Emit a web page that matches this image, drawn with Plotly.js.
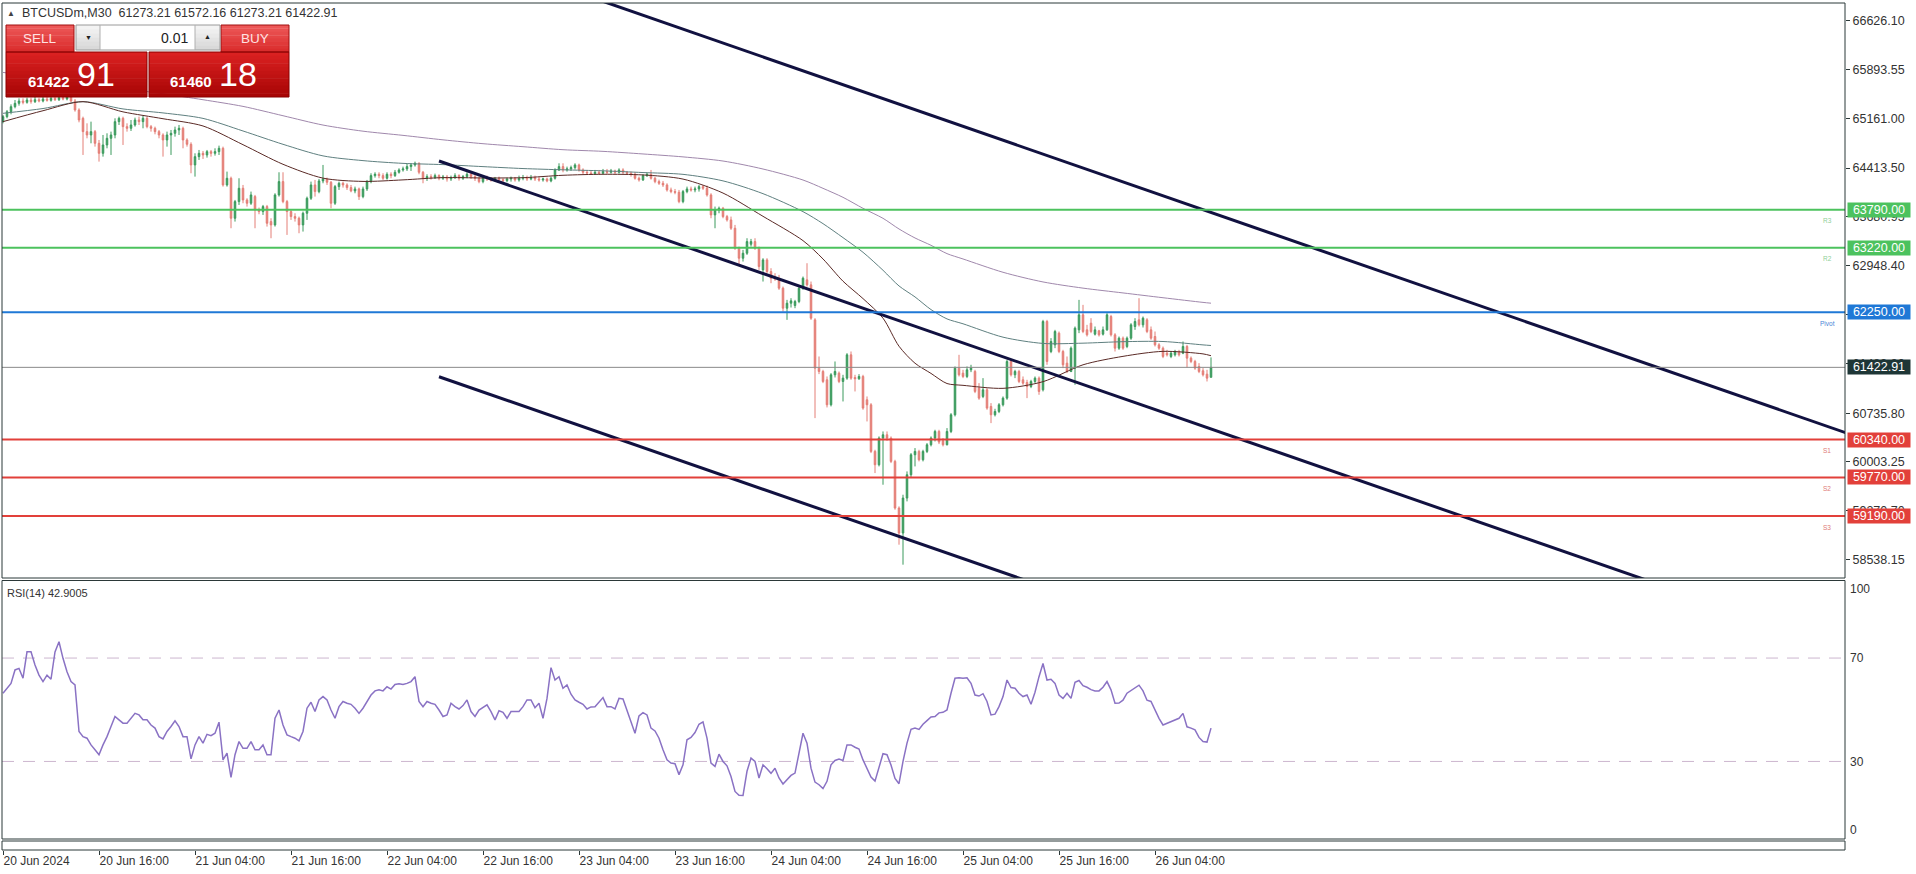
<!DOCTYPE html>
<html><head><meta charset="utf-8">
<script src="https://cdn.plot.ly/plotly-3.0.1.min.js"></script>
<style>html,body{margin:0;padding:0;background:#fff;overflow:hidden}#chart{width:1916px;height:874px}</style>
</head><body><div id="chart"></div>
<script>
// ---------------- DATA ----------------
const symbol = 'BTCUSDm,M30';
const firstBar = [2024, 5, 20, 4, 0]; // 20 Jun 2024 04:00, M30 bars
const barMinutes = 30;
const open = [65111,65186,65261,65336,65386,65421,65401,65436,65411,65441,
65421,65451,65431,65461,65441,65471,65451,65481,65421,65286,
65161,64961,64911,64961,64786,64636,64761,64861,64911,65111,
65161,65036,65011,65061,65136,65111,65161,65036,65011,64961,
64911,64836,64911,64936,64986,65011,64836,64771,64461,64586,
64636,64611,64661,64636,64661,64711,64161,64261,63661,63911,
64111,63936,63886,63986,63786,63761,63836,63611,63561,64011,
64211,63911,63761,63686,63661,63561,63736,63961,64161,64061,
64221,64251,64201,63886,64136,64186,64161,64121,64071,64101,
63986,64101,64211,64301,64321,64301,64261,64321,64301,64351,
64386,64401,64436,64461,64486,64351,64261,64286,64271,64301,
64261,64281,64251,64271,64301,64261,64286,64321,64286,64261,
64211,64271,64251,64236,64261,64241,64226,64251,64261,64236,
64261,64271,64251,64271,64251,64236,64251,64221,64261,64386,
64436,64386,64401,64421,64461,64386,64351,64341,64331,64351,
64336,64361,64351,64371,64351,64386,64351,64336,64321,64261,
64236,64301,64321,64261,64211,64186,64161,64086,64061,64051,
63911,64061,64101,64086,64101,64136,64111,64011,63711,63786,
63811,63686,63636,63511,63211,63061,63136,63271,63311,63211,
62886,63036,62861,62761,62751,62611,62311,62386,62351,62411,
62611,62736,62661,62136,61411,61361,61236,60861,61311,61336,
61211,61261,61611,61271,61251,61286,60936,60861,60161,59961,
60361,60411,60361,60011,59311,58936,59461,59811,60111,60161,
60036,60161,60261,60361,60461,60321,60261,60461,60711,61411,
61336,61286,61386,61361,61111,60986,61086,60836,60711,60761,
60861,60961,61511,61311,61361,61236,61196,61136,61211,61261,
61086,62111,61661,61761,61936,61661,61486,61361,61411,61986,
62211,61986,62086,61921,61971,61921,61986,62186,61911,61711,
61861,61736,61861,62036,62136,62061,62136,61986,61886,61761,
61711,61636,61586,61611,61661,61636,61736,61561,61511,61436,
61371,61321,61273.21];
const high = [65211,65286,65371,65436,65461,65461,65471,65471,65481,65471,
65486,65481,65491,65491,65501,65501,65511,65511,65451,65311,
65186,65086,65111,64986,64836,64911,64936,64961,65161,65186,
65186,65086,65136,65171,65186,65201,65186,65061,65036,64986,
64936,64961,64986,65036,65061,65036,64861,64801,64636,64686,
64671,64686,64686,64711,64751,64736,64361,64286,63936,64261,
64161,63961,64061,64011,63821,63861,63861,63661,64036,64351,
64351,63936,63786,63736,63686,63761,63986,64211,64236,64251,
64461,64271,64221,64161,64211,64211,64186,64161,64136,64121,
64136,64236,64336,64351,64351,64336,64351,64351,64386,64411,
64436,64486,64486,64511,64501,64371,64321,64321,64331,64321,
64311,64311,64301,64336,64321,64311,64351,64351,64311,64286,
64301,64301,64271,64281,64286,64261,64271,64286,64281,64301,
64311,64301,64311,64301,64281,64271,64271,64286,64411,64486,
64486,64436,64451,64486,64481,64411,64386,64381,64386,64386,
64401,64401,64401,64391,64411,64411,64371,64361,64351,64286,
64321,64351,64386,64281,64241,64221,64186,64121,64101,64086,
64086,64136,64136,64136,64161,64161,64151,64036,63836,63836,
63831,63711,63686,63561,63236,63186,63361,63351,63361,63236,
63061,63061,62911,62836,62811,62636,62436,62461,62436,62636,
62786,62986,62711,62161,61586,61386,61286,61336,61511,61361,
61311,61636,61661,61311,61321,61311,60986,60886,60186,60386,
60461,60461,60386,60036,59336,59511,59861,60136,60211,60186,
60186,60286,60386,60486,60486,60361,60511,60736,61436,61611,
61386,61436,61461,61386,61186,61261,61111,60886,60801,60886,
60986,61536,61536,61386,61386,61286,61236,61236,61286,61286,
62136,62136,61861,61986,61961,61686,61586,61736,62036,62436,
62361,62061,62161,62036,61986,62036,62236,62211,61936,61886,
61886,61886,62086,62161,62461,62186,62161,62036,61961,61786,
61736,61686,61661,61686,61686,61811,61761,61586,61536,61486,
61411,61386,61572.16];
const low = [65086,65161,65221,65311,65351,65371,65381,65381,65391,65401,
65401,65411,65411,65421,65421,65431,65431,65401,65261,65101,
64611,64861,64786,64736,64511,64586,64711,64611,64861,65061,
64761,64961,64971,65036,65061,65011,65011,64961,64921,64861,
64586,64736,64611,64886,64911,64711,64736,64336,64286,64536,
64551,64571,64586,64601,64611,64136,64136,63511,63611,63861,
63886,63836,63861,63511,63721,63711,63536,63361,63536,63986,
63886,63411,63636,63611,63436,63461,63636,63936,63986,64036,
64186,64161,63811,63861,64086,64121,64086,64051,64036,63936,
63961,64071,64186,64271,64261,64236,64241,64261,64281,64331,
64361,64371,64371,64436,64321,64186,64221,64241,64251,64231,
64236,64211,64221,64251,64226,64236,64261,64251,64221,64186,
64186,64221,64211,64211,64211,64201,64201,64211,64211,64211,
64231,64221,64231,64221,64211,64211,64201,64201,64241,64371,
64351,64361,64371,64391,64361,64321,64321,64311,64311,64311,
64321,64321,64331,64321,64331,64321,64311,64286,64241,64211,
64221,64281,64241,64186,64161,64131,64061,64036,64021,63886,
63886,64036,64061,64051,64061,64086,63986,63661,63511,63736,
63661,63611,63486,63186,62961,63011,63111,63236,63186,62886,
62711,62836,62686,62721,62586,62261,62136,62321,62311,62386,
62586,62636,62136,60661,61321,61186,60821,60836,61271,61186,
60911,61236,61236,61061,61236,60786,60611,60136,59836,59936,
59661,60321,59986,59286,58761,58461,59411,59761,59936,60011,
60011,60136,60236,60311,60271,60236,60251,60436,60686,61286,
61261,61261,61351,61036,60936,60961,60786,60586,60686,60736,
60836,60936,61286,61261,61186,61161,60961,61111,61186,61011,
61061,61461,61636,61711,61636,61411,61336,61351,61161,61936,
61936,61886,61936,61901,61886,61901,61971,61886,61661,61686,
61686,61711,61836,61986,62036,62021,61936,61836,61736,61686,
61561,61586,61561,61586,61586,61621,61421,61486,61386,61336,
61286,61211,61273.21];
const close = [65186,65261,65336,65386,65421,65401,65436,65411,65441,65421,
65451,65431,65461,65441,65471,65451,65481,65421,65286,65136,
64961,64911,64961,64786,64636,64761,64861,64911,65111,65161,
65036,65011,65061,65136,65111,65161,65036,65011,64961,64911,
64836,64911,64936,64986,65011,64836,64771,64461,64586,64636,
64611,64661,64636,64661,64711,64161,64261,63661,63911,64111,
63936,63886,64011,63786,63761,63836,63586,63561,64011,64211,
63911,63761,63686,63661,63561,63736,63961,64161,64061,64221,
64251,64201,63886,64136,64186,64161,64121,64071,64101,63986,
64101,64211,64301,64321,64301,64261,64321,64301,64351,64386,
64401,64436,64461,64486,64351,64261,64286,64271,64301,64261,
64281,64251,64271,64301,64261,64286,64321,64286,64261,64211,
64271,64251,64236,64261,64241,64226,64251,64261,64236,64261,
64271,64251,64271,64251,64236,64251,64221,64261,64386,64436,
64386,64401,64421,64461,64386,64351,64341,64331,64351,64336,
64361,64351,64371,64351,64386,64351,64336,64321,64261,64236,
64301,64321,64261,64211,64186,64161,64086,64061,64051,63911,
64061,64101,64086,64101,64136,64111,64011,63711,63786,63811,
63686,63636,63511,63211,63061,63136,63311,63311,63211,62936,
63036,62861,62761,62751,62611,62311,62386,62421,62411,62611,
62761,62661,62161,61411,61361,61211,60861,61311,61361,61211,
61261,61611,61261,61251,61286,60811,60861,60161,59961,60361,
60411,60361,60011,59311,58936,59461,59811,60111,60161,60036,
60161,60261,60361,60461,60301,60261,60461,60711,61411,61311,
61286,61386,61411,61061,60961,61086,60811,60711,60761,60861,
60961,61511,61311,61361,61211,61186,61136,61211,61261,61061,
62111,61511,61811,61961,61661,61461,61361,61711,62011,62211,
61961,61911,61961,61986,61911,61986,62211,61911,61711,61861,
61711,61861,62061,62111,62061,62161,61961,61861,61761,61711,
61586,61611,61636,61661,61611,61736,61561,61511,61411,61361,
61311,61261,61422.91];
// Moving averages, read at these bar positions
const maBars = [0,10,20,30,40,50,60,70,80,90,100,110,120,130,140,150,160,170,180,190,200,205,210,215,220,224,228,232,236,240,250,260,270,280,290,300,302];
const maFast = [65111,65275,65411,65258,65155,65046,64765,64471,64263,64214,64237,64271,64266,64270,64306,64321,64311,64249,64039,63690,63325,63050,62716,62455,62161,61740,61485,61332,61180,61153,61108,61208,61461,61588,61663,61625,61598];
const maMid = [65236,65308,65411,65302,65242,65160,64971,64771,64597,64526,64485,64466,64436,64407,64388,64373,64347,64320,64222,64030,63760,63580,63370,63150,62880,62645,62480,62290,62150,62077,61876,61782,61786,61808,61811,61760,61751];
const maSlow = [65850,65770,65690,65610,65530,65440,65340,65200,65060,64968,64905,64838,64780,64735,64690,64665,64626,64582,64520,64400,64235,64110,63975,63810,63660,63500,63365,63255,63130,63050,62850,62705,62612,62540,62468,62398,62386];
// RSI(14), one value per bar
const rsi = [56.4,58.3,60.2,65.4,66.0,62.2,72.4,72.4,67.3,63.4,
60.9,63.4,61.8,72.4,76.3,69.9,64.7,60.9,59.6,41.6,
39.6,39.0,36.4,34.5,32.6,36.4,39.6,43.5,47.4,46.1,
44.8,44.8,46.7,48.6,48.0,46.1,46.1,44.1,42.9,39.6,
38.7,41.6,43.5,45.7,43.5,39.6,39.6,31.0,36.4,39.6,
37.1,40.5,40.0,40.9,45.2,30.6,33.2,23.8,32.6,37.7,
35.1,35.1,37.7,34.5,34.5,36.4,32.6,32.6,46.7,49.9,
44.1,40.3,39.6,39.0,38.0,41.6,50.6,52.9,49.3,53.8,
55.1,53.8,49.9,46.7,51.2,53.2,52.5,52.1,50.6,48.6,
50.6,53.2,55.7,57.3,57.7,57.3,58.9,58.0,59.8,60.1,
59.8,60.2,60.9,62.8,53.2,51.2,53.2,52.5,52.1,49.9,
47.4,48.0,52.5,51.2,50.3,51.6,53.8,49.3,47.4,49.9,
50.8,51.9,49.3,46.1,49.6,49.0,46.7,49.3,49.3,49.3,
51.2,53.8,53.8,50.8,52.5,46.7,54.4,66.3,61.5,62.8,
58.3,59.6,56.0,53.8,52.9,52.1,50.3,51.1,51.2,52.9,
54.7,51.2,51.2,50.3,54.4,54.2,49.9,44.8,40.9,47.6,
48.9,48.0,42.9,41.8,39.0,34.5,30.6,29.4,29.1,24.9,
28.7,38.4,39.3,41.2,44.4,45.3,39.0,29.4,28.1,32.8,
30.0,28.3,24.2,18.4,16.9,16.8,26.2,31.3,30.0,23.6,
28.7,27.2,25.4,27.4,23.6,21.3,22.9,24.6,25.5,33.2,
40.9,37.1,27.4,22.0,21.0,19.5,22.3,28.7,30.4,30.9,
30.4,36.4,36.4,35.5,34.8,30.6,27.2,24.0,22.4,27.7,
33.0,32.6,28.6,23.4,21.4,30.0,37.1,42.4,42.9,42.4,
44.4,45.8,47.2,47.4,48.8,49.0,49.9,56.4,62.2,62.4,
62.2,62.4,60.2,55.7,55.3,56.2,53.2,48.0,48.3,51.2,
55.1,61.5,58.6,58.3,56.4,55.1,55.7,52.1,56.8,62.8,
67.9,61.5,61.8,60.2,55.7,54.4,56.4,54.4,60.6,61.3,
59.3,58.7,57.8,57.3,57.3,58.7,60.9,57.7,52.5,52.6,
53.7,56.4,57.5,58.7,59.5,57.3,53.7,53.2,49.9,46.7,
44.1,44.8,45.4,46.1,46.7,48.6,43.4,42.9,42.2,39.3,
37.7,37.5,42.9005];
const rsiLabel = 'RSI(14) 42.9005';
const rsiLevels = [70, 30];
// Channel trend lines (bar position, price)
const upperLineBars = [140, 470];
const upperLinePrices = [67125, 60247];
const midLineBars = [109, 420];
const midLinePrices = [64520, 58039];
const lowLineBars = [109, 260];
const lowLinePrices = [61282, 58135];
// Pivot levels
const pivotNames = ['R3', 'R2', 'Pivot', 'S1', 'S2', 'S3'];
const pivotValues = [63790, 63220, 62250, 60340, 59770, 59190];
const bidPrice = 61422.91;
const askPrice = 61460.18;
const lotSize = '0.01';
// Axis labels
const priceTicks = [66626.10, 65893.55, 65161.00, 64413.50, 63680.95, 62948.40, 62215.85, 61483.30, 60735.80, 60003.25, 59270.70, 58538.15];
const timeTickBars = [0,24,48,72,96,120,144,168,192,216,240,264,288];
const timeTickLabels = ['20 Jun 2024','20 Jun 16:00','21 Jun 04:00','21 Jun 16:00','22 Jun 04:00','22 Jun 16:00','23 Jun 04:00','23 Jun 16:00','24 Jun 04:00','24 Jun 16:00','25 Jun 04:00','25 Jun 16:00','26 Jun 04:00'];
const rsiAxisLabels = [100, 70, 30, 0];

// ---------------- HELPERS ----------------
const pad = n => String(n).padStart(2, '0');
const t0 = Date.UTC(firstBar[0], firstBar[1], firstBar[2], firstBar[3], firstBar[4]);
function barTime(i) {
  const d = new Date(t0 + i * barMinutes * 60000);
  return d.getUTCFullYear() + '-' + pad(d.getUTCMonth() + 1) + '-' + pad(d.getUTCDate()) + ' ' +
    pad(d.getUTCHours()) + ':' + pad(d.getUTCMinutes()) + ':' + pad(d.getUTCSeconds());
}
const times = open.map((_, i) => barTime(i));

// pixel geometry of plot area
const PL = 2, PR = 1845, PT = 3, PB = 850;
const PW = PR - PL, PH = PB - PT;
const fx = x => (x - PL) / PW;
const fy = y => (PB - y) / PH;

const FONT = 'Liberation Sans, Arial, sans-serif';
const C = {
  bull: '#3a9a5c', bear: '#e47e76',
  maFast: '#5a2a26', maMid: '#5f8080', maSlow: '#a088ac',
  chan: '#111140', rsi: '#8a72c4', rsiLvl: '#cdb6cf',
  frame: '#2b3838', text: '#333333',
  pivot: ['#4cc25e', '#4cc25e', '#1f78d6', '#e2403a', '#e2403a', '#e2403a'],
  pivotTxt: ['#8fcf98', '#8fcf98', '#4a86d6', '#de7a76', '#de7a76', '#de7a76'],
  bidBox: '#1e3636'
};

function hex2rgb(h) { return [1, 3, 5].map(k => parseInt(h.substr(k, 2), 16)); }
function mix(a, b, t) {
  const A = hex2rgb(a), B = hex2rgb(b);
  return 'rgb(' + A.map((v, k) => Math.round(v + (B[k] - v) * t)).join(',') + ')';
}
const shapes = [];
const annotations = [];
function rectPx(x0, x1, y0, y1, fill, line, lw) {
  shapes.push({type: 'rect', xref: 'paper', yref: 'paper', layer: 'above',
    x0: fx(x0), x1: fx(x1), y0: fy(y0), y1: fy(y1),
    fillcolor: fill || 'rgba(0,0,0,0)', line: {color: line || 'rgba(0,0,0,0)', width: lw || 0}});
}
function gradPx(x0, x1, y0, y1, c0, c1, n) {
  for (let k = 0; k < n; k++) {
    const ya = y0 + (y1 - y0) * k / n, yb = y0 + (y1 - y0) * (k + 1) / n + 0.4;
    rectPx(x0, x1, ya, Math.min(yb, y1), mix(c0, c1, (k + 0.5) / n));
  }
}
function linePx(x0, y0, x1, y1, color, w) {
  shapes.push({type: 'line', xref: 'paper', yref: 'paper', layer: 'above',
    x0: fx(x0), x1: fx(x1), y0: fy(y0), y1: fy(y1), line: {color: color, width: w || 1}});
}
function textPx(x, y, text, size, color, xanchor, extra) {
  annotations.push(Object.assign({xref: 'paper', yref: 'paper', x: fx(x), y: fy(y), text: text,
    showarrow: false, xanchor: xanchor || 'left', yanchor: 'middle',
    font: {family: FONT, size: size, color: color}}, extra || {}));
}

// ---------------- TRACES ----------------
const traces = [];
traces.push({type: 'candlestick', x: times, open: open, high: high, low: low, close: close,
  xaxis: 'x', yaxis: 'y', whiskerwidth: 0, hoverinfo: 'skip',
  increasing: {line: {color: C.bull, width: 1}, fillcolor: C.bull},
  decreasing: {line: {color: C.bear, width: 1}, fillcolor: C.bear}});
const maX = maBars.map(barTime);
[[maSlow, C.maSlow], [maMid, C.maMid], [maFast, C.maFast]].forEach(([v, col]) => {
  traces.push({type: 'scatter', mode: 'lines', x: maX, y: v, xaxis: 'x', yaxis: 'y',
    line: {color: col, width: 1, shape: 'spline', smoothing: 0.8}, hoverinfo: 'skip'});
});
[[upperLineBars, upperLinePrices], [midLineBars, midLinePrices], [lowLineBars, lowLinePrices]].forEach(([b, p]) => {
  traces.push({type: 'scatter', mode: 'lines', x: b.map(barTime), y: p, xaxis: 'x', yaxis: 'y',
    line: {color: C.chan, width: 3}, hoverinfo: 'skip'});
});
traces.push({type: 'scatter', mode: 'lines', x: times, y: rsi, xaxis: 'x', yaxis: 'y2',
  line: {color: C.rsi, width: 1.5}, hoverinfo: 'skip'});

// ---------------- LEVELS ----------------
pivotValues.forEach((v, k) => {
  shapes.push({type: 'line', xref: 'paper', yref: 'y', layer: 'above', x0: 0, x1: 1, y0: v, y1: v,
    line: {color: C.pivot[k], width: 2}});
  annotations.push({xref: 'paper', yref: 'y', x: fx(1847), y: v, xanchor: 'left', yanchor: 'middle',
    text: v.toFixed(2), showarrow: false, bgcolor: C.pivot[k], borderpad: 2, width: 58, height: 10,
    align: 'center', font: {family: FONT, size: 12.5, color: '#ffffff'}});
  annotations.push({xref: 'paper', yref: 'y', x: fx(1827), y: v, yshift: -11, xanchor: 'center', yanchor: 'middle',
    text: pivotNames[k], showarrow: false, font: {family: FONT, size: 6.5, color: C.pivotTxt[k]}});
});
shapes.push({type: 'line', xref: 'paper', yref: 'y', layer: 'above', x0: 0, x1: 1, y0: bidPrice, y1: bidPrice,
  line: {color: '#8a8a8a', width: 1}});
annotations.push({xref: 'paper', yref: 'y', x: fx(1847), y: bidPrice, xanchor: 'left', yanchor: 'middle',
  text: bidPrice.toFixed(2), showarrow: false, bgcolor: C.bidBox, borderpad: 2, width: 58, height: 10,
  align: 'center', font: {family: FONT, size: 12.5, color: '#ffffff'}});
rsiLevels.forEach(v => {
  shapes.push({type: 'line', xref: 'paper', yref: 'y2', layer: 'below', x0: 0, x1: 1, y0: v, y1: v,
    line: {color: C.rsiLvl, width: 1, dash: '12px,9px'}});
});

// ---------------- FRAME ----------------
rectPx(PL, PR, PT, 578, null, C.frame, 1);
rectPx(PL, PR, 580.5, 839, null, C.frame, 1);
rectPx(PL, PR, 841, PB, null, C.frame, 1);

// RSI axis labels
const rsiLabelY = {100: 589, 70: 658, 30: 762, 0: 830};
rsiAxisLabels.forEach(v => textPx(1848, rsiLabelY[v], String(v), 12, C.text));
textPx(5, 593, rsiLabel, 11, C.text);

// ---------------- HEADER & TRADE PANEL ----------------
const last = close.length - 1;
textPx(5, 13, '▲', 8, '#444');
textPx(20, 13, symbol + '&nbsp;&nbsp;' + [open[last], high[last], low[last], close[last]].map(v => v.toFixed(2)).join(' '), 12.5, C.text);

gradPx(6, 74, 25, 52, '#ee5a5a', '#d92a2a', 8);
gradPx(221, 289, 25, 52, '#ee5a5a', '#d92a2a', 8);
gradPx(6, 147, 52, 97, '#dc2222', '#a60404', 12);
gradPx(149, 289, 52, 97, '#dc2222', '#a60404', 12);
rectPx(6, 74, 25, 52, null, '#a01010', 1);
rectPx(221, 289, 25, 52, null, '#a01010', 1);
rectPx(6, 147, 52, 97, null, '#8a0000', 1);
rectPx(149, 289, 52, 97, null, '#8a0000', 1);
gradPx(76, 100, 25, 50, '#f6f6f6', '#d6d6d6', 6);
gradPx(195, 220, 25, 50, '#f6f6f6', '#d6d6d6', 6);
rectPx(100, 195, 25, 50, '#ffffff');
rectPx(76, 220, 25, 50, null, '#9a9a9a', 1);
linePx(100, 25, 100, 50, '#b0b0b0', 1);
linePx(195, 25, 195, 50, '#b0b0b0', 1);

textPx(40, 38.5, 'SELL', 13.5, '#ffe2e2', 'center');
textPx(255, 38.5, 'BUY', 13.5, '#ffe2e2', 'center');
textPx(88, 38, '▼', 7, '#222', 'center');
textPx(207.5, 37, '▲', 7, '#222', 'center');
textPx(190, 38, lotSize, 14, '#222', 'right');
const bidStr = bidPrice.toFixed(2).split('.');
const askStr = askPrice.toFixed(2).split('.');
textPx(26, 82, '<b>' + bidStr[0] + '</b>', 15, '#ffffff');
textPx(75, 74, bidStr[1], 34, '#ffffff');
textPx(168, 82, '<b>' + askStr[0] + '</b>', 15, '#ffffff');
textPx(217, 74, askStr[1], 34, '#ffffff');

// ---------------- LAYOUT ----------------
const layout = {
  width: 1916, height: 874,
  margin: {l: PL, r: 1916 - PR, t: PT, b: 874 - PB, pad: 0},
  paper_bgcolor: '#ffffff', plot_bgcolor: '#ffffff',
  font: {family: FONT, size: 12, color: C.text},
  showlegend: false, boxgap: 0.45,
  xaxis: {type: 'date', domain: [0, 1], anchor: 'free', position: 0, range: [barTime(-0.25), barTime(460.5)],
    tickvals: timeTickBars.map(barTime), ticktext: timeTickLabels, ticks: 'outside', ticklen: 4,
    tickcolor: C.frame, tickfont: {family: FONT, size: 12, color: C.text},
    ticklabelposition: 'outside right', showgrid: false, zeroline: false, showline: false,
    rangeslider: {visible: false}, fixedrange: true},
  yaxis: {domain: [fy(578), 1], range: [58261, 66892], side: 'right', anchor: 'x',
    tickvals: priceTicks, ticktext: priceTicks.map(v => v.toFixed(2)), ticks: 'outside', ticklen: 4,
    tickcolor: C.frame, tickfont: {family: FONT, size: 12.5, color: C.text},
    showgrid: false, zeroline: false, showline: false, fixedrange: true},
  yaxis2: {domain: [fy(839), fy(580.5)], range: [0, 100], anchor: 'x', side: 'right', showticklabels: false, ticks: '',
    showgrid: false, zeroline: false, showline: false, fixedrange: true},
  shapes: shapes, annotations: annotations
};
Plotly.newPlot('chart', traces, layout, {staticPlot: true, displayModeBar: false});
</script>
</body></html>
